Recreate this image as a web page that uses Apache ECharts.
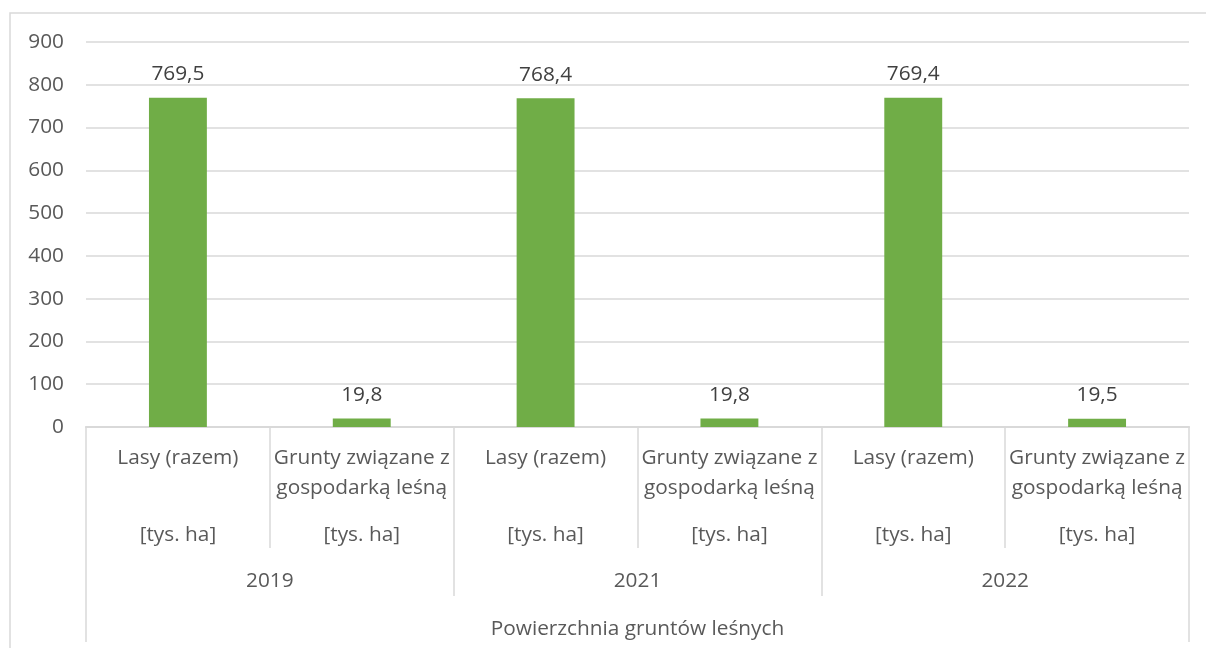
<!DOCTYPE html>
<html><head><meta charset="utf-8">
<script src="https://cdn.jsdelivr.net/npm/echarts@6/dist/echarts.min.js"></script>
<style>html,body{margin:0;padding:0;background:#fff}#c{width:1206px;height:648px}</style>
</head><body><div id="c"></div>
<script>
const itemLabels = ['Lasy (razem)', 'Grunty związane z\ngospodarką leśną', 'Lasy (razem)', 'Grunty związane z\ngospodarką leśną', 'Lasy (razem)', 'Grunty związane z\ngospodarką leśną'];
const unitLabels = ['[tys. ha]', '[tys. ha]', '[tys. ha]', '[tys. ha]', '[tys. ha]', '[tys. ha]'];
const years = ['2019', '2021', '2022'];
const groupLabel = ['Powierzchnia gruntów leśnych'];
const values = [769.5, 19.8, 768.4, 19.8, 769.4, 19.5];
const yTicks = { min: 0, max: 900, interval: 100 };

const FONT = 'Open Sans';
const FS = 20.8;
const TXT = '#595959';
const LINE = '#d9d9d9';

const chart = echarts.init(document.getElementById('c'), null, { renderer: 'canvas' });
const grid = { left: 86, right: 17, top: 42, bottom: 221, containLabel: false };
function catAxis(data, tickLen, margin, showTicks, lh) {
  return {
    type: 'category', data: data, position: 'bottom', boundaryGap: true,
    axisLine: { show: true, lineStyle: { color: LINE, width: 1.5 } },
    axisTick: { show: showTicks, length: tickLen, alignWithLabel: false, lineStyle: { color: LINE, width: 1.5 } },
    axisLabel: { show: true, interval: 0, margin: margin, color: TXT, fontFamily: FONT, fontSize: FS, lineHeight: lh, verticalAlign: 'top' },
    splitLine: { show: false }
  };
}
chart.setOption({
  animation: false,
  backgroundColor: '#fff',
  grid: grid,
  graphic: [{ type: 'rect', shape: { x: 10, y: 13, width: 1210, height: 650 }, style: { fill: 'none', stroke: LINE, lineWidth: 1.5 }, silent: true, z: -1 }],
  xAxis: [
    catAxis(itemLabels, 121, 16, true, 30),
    catAxis(unitLabels, 0, 98, false, 20),
    catAxis(years, 169, 144, true, 20),
    catAxis(groupLabel, 215, 192, true, 20)
  ],
  yAxis: {
    type: 'value', min: yTicks.min, max: yTicks.max, interval: yTicks.interval,
    axisLine: { show: false }, axisTick: { show: false },
    axisLabel: { color: TXT, fontFamily: FONT, fontSize: FS, margin: 22 },
    splitLine: { lineStyle: { color: LINE, width: 1.5 } }
  },
  series: [{
    type: 'bar', xAxisIndex: 0, data: values, barWidth: '31.5%',
    itemStyle: { color: '#70AD47' },
    label: {
      show: true, position: 'top', distance: 13, color: '#404040', fontFamily: FONT, fontSize: FS,
      formatter: p => p.value.toFixed(1).replace('.', ',')
    }
  }]
});
</script></body></html>
